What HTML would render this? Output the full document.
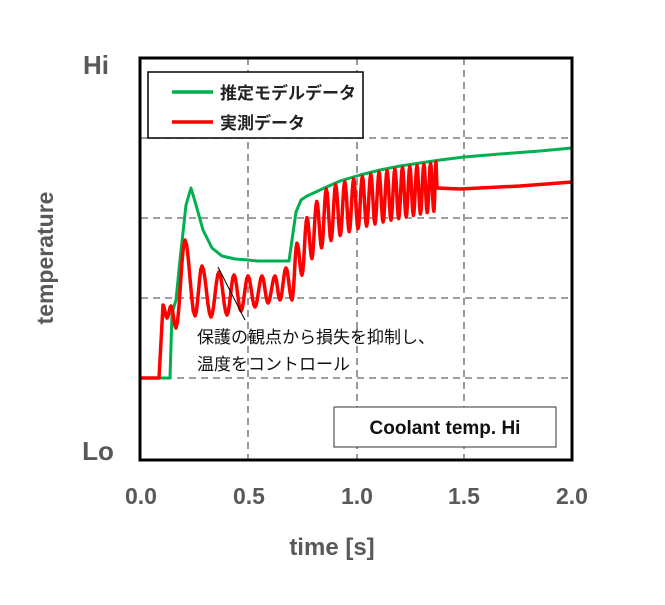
<!DOCTYPE html>
<html><head><meta charset="utf-8"><style>
html,body{margin:0;padding:0;background:#fff;}
body{width:665px;height:605px;overflow:hidden;position:relative;font-family:"Liberation Sans","Noto Sans CJK JP",sans-serif;}
</style></head><body>
<svg width="665" height="605" viewBox="0 0 665 605" xmlns="http://www.w3.org/2000/svg" style="position:absolute;left:0;top:0">
<g stroke="#808080" stroke-width="1.6" stroke-dasharray="7,5" fill="none">
<line x1="141" y1="138" x2="572" y2="138"/>
<line x1="141" y1="218" x2="572" y2="218"/>
<line x1="141" y1="298" x2="572" y2="298"/>
<line x1="141" y1="378" x2="572" y2="378"/>
<line x1="248" y1="58" x2="248" y2="459"/>
<line x1="357" y1="58" x2="357" y2="459"/>
<line x1="464" y1="58" x2="464" y2="459"/>
</g>
<path id="green" fill="none" stroke="#00b050" stroke-width="3" stroke-linejoin="round"/>
<path id="red" fill="none" stroke="#ff0000" stroke-width="3.5" stroke-linejoin="round"/>
<line x1="218" y1="267" x2="245" y2="320" stroke="#000" stroke-width="1"/>
<rect x="140" y="58" width="432" height="402" fill="none" stroke="#000" stroke-width="3"/>
<rect x="148" y="72" width="215" height="66" fill="#fff" stroke="#000" stroke-width="1.5"/>
<line x1="172" y1="92" x2="213" y2="92" stroke="#00b050" stroke-width="3.5"/>
<line x1="172" y1="122" x2="213" y2="122" stroke="#ff0000" stroke-width="3.5"/>
<text x="220" y="99" font-size="17" font-weight="bold" fill="#222">推定モデルデータ</text>
<text x="220" y="129" font-size="17" font-weight="bold" fill="#222">実測データ</text>
<rect x="334" y="407" width="222" height="40" fill="#fff" stroke="#333" stroke-width="1"/>
<text x="445" y="434" font-size="19" font-weight="bold" fill="#111" text-anchor="middle">Coolant temp. Hi</text>
<text x="197" y="343" font-size="17" fill="#111">保護の観点から損失を抑制し、</text>
<text x="197" y="370" font-size="17" fill="#111">温度をコントロール</text>
<g font-size="23" font-weight="bold" fill="#595959">
<text x="96" y="74" text-anchor="middle" font-size="26">Hi</text>
<text x="98" y="460" text-anchor="middle" font-size="26">Lo</text>
<text x="141" y="504" text-anchor="middle">0.0</text>
<text x="249" y="504" text-anchor="middle">0.5</text>
<text x="357" y="504" text-anchor="middle">1.0</text>
<text x="464" y="504" text-anchor="middle">1.5</text>
<text x="572" y="504" text-anchor="middle">2.0</text>
<text x="332" y="555" text-anchor="middle" font-size="24">time [s]</text>
<text transform="translate(53,258) rotate(-90)" text-anchor="middle" font-size="23">temperature</text>
</g>
</svg>
<script>
(function(){
function P(a){return "M"+a.map(function(p){return p[0].toFixed(1)+","+p[1].toFixed(1);}).join(" L");}
var g=[[141,378],[170,378],[172,313],[176,300],[180,260],[186,205],[191,188],[196,205],[203,230],[212,248],[222,256],[235,259],[248,260],[258,261],[270,261],[289,261],[292,240],[296,212],[301,200],[307,196],[320,190],[340,181],[360,175],[380,170],[400,166],[420,163],[440,160],[464,157],[500,154],[540,151],[572,148]];
document.getElementById('green').setAttribute('d',P(g));
function gy(x){for(var i=0;i<g.length-1;i++){if(x>=g[i][0]&&x<=g[i+1][0]){var t=(x-g[i][0])/(g[i+1][0]-g[i][0]);return g[i][1]+t*(g[i+1][1]-g[i][1]);}}return 150;}
var ex=[[163,305],[167,318],[171,306],[176,328],[185,240]];
var pk=[[202,266],[219,272],[234,275],[248,276],[262,276],[275,276],[286,268]];
var tr=[[195,316],[211,317],[227,315],[241,311],[255,307],[268,303],[280,300],[292,300]];
for(var i=0;i<pk.length;i++){ex.push(tr[i]);ex.push(pk[i]);}
ex.push(tr[7]);
var x=297,per=10;
while(x<434){
  var hy=gy(x)+(x<325?Math.max(0,(325-x)*1.2):2);
  ex.push([x,hy]);
  var xt=x+per/2;
  var low=212+(430-xt)*0.2+62*Math.exp(-(xt-292)/20);
  if(xt>434)break;
  ex.push([xt,low]);
  x+=per; per=Math.max(6.6,per-0.22);
}
ex.push([436,162]);
var r=[[141,378],[159,378]];
r.push([163,305]);
for(var i=1;i<ex.length;i++){
  var a=ex[i-1],b=ex[i];
  for(var s=1;s<=6;s++){var t=s/6,c=(1-Math.cos(Math.PI*t))/2;r.push([a[0]+(b[0]-a[0])*t,a[1]+(b[1]-a[1])*c]);}
}
r.push([437,188]);r.push([460,189]);r.push([520,186]);r.push([572,182]);
document.getElementById('red').setAttribute('d',P(r));
})();
</script>
</body></html>
